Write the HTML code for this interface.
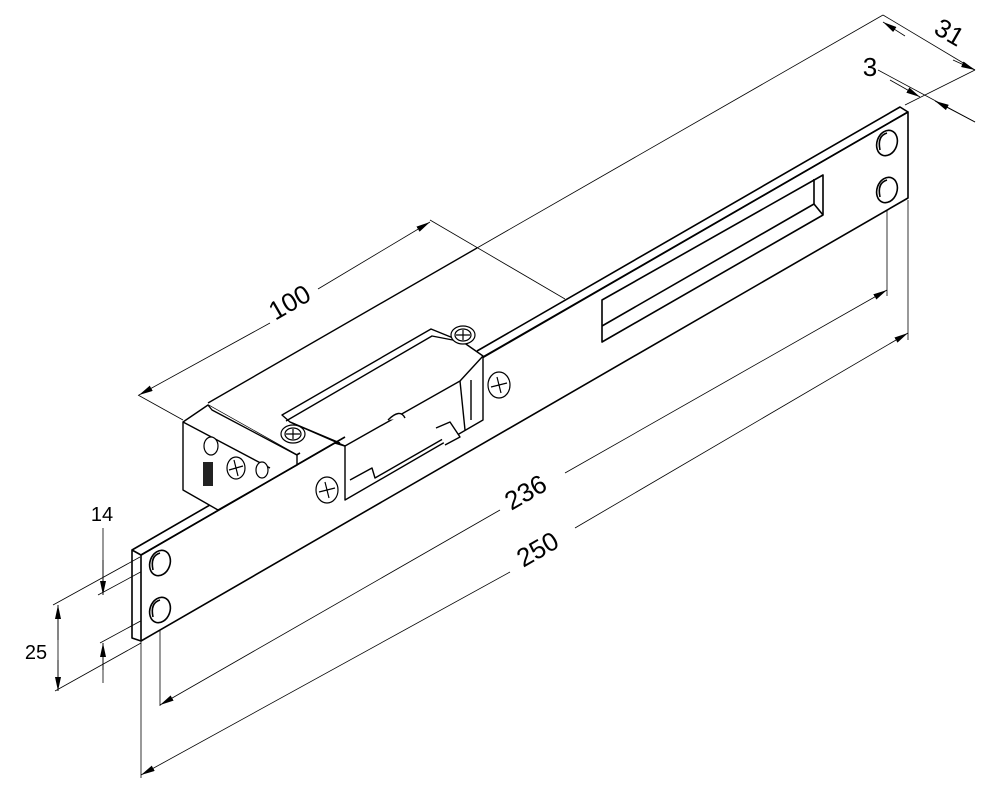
<!DOCTYPE html>
<html><head><meta charset="utf-8"><style>html,body{margin:0;padding:0;background:#fff}svg{display:block}</style></head>
<body>
<svg width="1000" height="801" viewBox="0 0 1000 801" xmlns="http://www.w3.org/2000/svg">
<defs>
<marker id="a" viewBox="0 0 14 6" refX="14" refY="3" markerWidth="14" markerHeight="6" orient="auto" markerUnits="userSpaceOnUse"><path d="M0,0 L14,3 L0,6 Z" fill="#000"/></marker>
</defs>
<g fill="none" stroke="#000" stroke-width="0.8">
<line x1="477" y1="248" x2="883" y2="15"/>
<line x1="883" y1="15" x2="975" y2="70"/>
<line x1="905" y1="105" x2="975" y2="70"/>
<line x1="878" y1="70" x2="975" y2="122"/>
<line x1="430" y1="220" x2="565" y2="299"/>
<line x1="138" y1="395" x2="183" y2="420"/>
<line x1="887" y1="198" x2="887" y2="296"/>
<line x1="908" y1="200" x2="908" y2="340"/>
<line x1="160" y1="625" x2="160" y2="706"/>
<line x1="141" y1="641" x2="141" y2="778"/>
<line x1="53" y1="605" x2="140" y2="557"/>
<line x1="98" y1="595" x2="148" y2="568"/>
<line x1="100" y1="643" x2="148" y2="617"/>
<line x1="55" y1="691" x2="141" y2="643"/>
<line x1="103" y1="528" x2="103" y2="595"/>
<line x1="103" y1="683" x2="103" y2="643"/>
<line x1="58" y1="605" x2="58" y2="691"/>
</g>
<g fill="none" stroke="#000" stroke-width="0.8">
<line x1="270" y1="323" x2="139" y2="395" marker-end="url(#a)"/>
<line x1="318" y1="289" x2="430" y2="222" marker-end="url(#a)"/>
<line x1="953" y1="60" x2="975" y2="70" marker-end="url(#a)"/>
<line x1="905" y1="36" x2="883" y2="22" marker-end="url(#a)"/>
<line x1="890" y1="80" x2="920" y2="97" marker-end="url(#a)"/>
<line x1="975" y1="122" x2="935" y2="101" marker-end="url(#a)"/>
<line x1="500" y1="510" x2="160" y2="705" marker-end="url(#a)"/>
<line x1="565" y1="473" x2="887" y2="290" marker-end="url(#a)"/>
<line x1="510" y1="572" x2="141" y2="775" marker-end="url(#a)"/>
<line x1="575" y1="528" x2="908" y2="333" marker-end="url(#a)"/>
<line x1="103" y1="560" x2="103" y2="595" marker-end="url(#a)"/>
<line x1="103" y1="670" x2="103" y2="643" marker-end="url(#a)"/>
<line x1="58" y1="640" x2="58" y2="605" marker-end="url(#a)"/>
<line x1="58" y1="660" x2="58" y2="691" marker-end="url(#a)"/>
</g>
<!-- plate -->
<g fill="none" stroke="#000" stroke-width="1.6" stroke-linejoin="round">
<polygon points="141,555 908,112 908,198 141,641" fill="#fff"/>
<polyline points="141,555 132,550 132,638 141,641"/>
<polyline points="908,112 900,107 477,351"/>
<line x1="132" y1="550" x2="300" y2="453"/>
<polygon points="602,300 823,175 823,215 602,342"/>
<polyline points="602,326 814,204 814,179"/>
<line x1="814" y1="204" x2="823" y2="215"/>
<ellipse cx="160" cy="563" rx="10" ry="13" transform="rotate(20 160 563)"/>
<path d="M153,570 Q150,556 160,553" />
<ellipse cx="160" cy="610" rx="10" ry="13" transform="rotate(20 160 610)"/>
<path d="M153,617 Q150,603 160,600" />
<ellipse cx="887" cy="143" rx="10" ry="13" transform="rotate(20 887 143)"/>
<path d="M880,150 Q877,136 887,133" />
<ellipse cx="887" cy="190" rx="10" ry="13" transform="rotate(20 887 190)"/>
<path d="M880,197 Q877,183 887,180" />
</g>
<!-- lock body -->
<g fill="#fff" stroke="#000" stroke-width="1.4" stroke-linejoin="round">
<line x1="208" y1="403" x2="477" y2="248"/>
<polygon points="183,422 208,405 297,455 297,465 218,510 183,490" />
<polyline points="208,405 212,410 297,455"/>
<line x1="183" y1="422" x2="270" y2="468"/>
<polygon points="282,415 431,329 463,342 483,356 483,420 345,500 345,446 290,422"/>
<polyline points="286,421 432,336 463,342"/>
<line x1="290" y1="422" x2="340" y2="443"/>
<line x1="345" y1="446" x2="460" y2="381"/>
<line x1="460" y1="381" x2="483" y2="356"/>
<line x1="460" y1="381" x2="465" y2="430"/>
<polyline points="350,480 372,468 375,478 455,432"/>
<polyline points="436,428 450,422 460,437 445,445"/>
<path d="M388,420 Q400,408 405,418"/>
<line x1="471" y1="380" x2="471" y2="420"/>
</g>
<rect x="203" y="462" width="10" height="24" fill="#222"/>
<g fill="#fff" stroke="#000" stroke-width="1.2">
<ellipse cx="293" cy="434" rx="12" ry="9"/><ellipse cx="293" cy="434" rx="8" ry="6"/><path d="M286,434 h14 M293,429 v10"/>
<ellipse cx="463" cy="335" rx="12" ry="9"/><ellipse cx="463" cy="335" rx="8" ry="6"/><path d="M456,335 h14 M463,330 v10"/>
<ellipse cx="499" cy="385" rx="11" ry="13"/><path d="M491,387 l16,-4 M497,377 l4,16"/>
<ellipse cx="327" cy="490" rx="11" ry="13"/><path d="M319,492 l16,-4 M325,482 l4,16"/>
<ellipse cx="211" cy="446" rx="7" ry="9"/>
<ellipse cx="236" cy="468" rx="9" ry="11"/><path d="M229,470 l14,-4 M234,460 l4,16"/>
<ellipse cx="262" cy="470" rx="6" ry="8"/>
</g>
<g fill="none" stroke="#000" stroke-width="1.6">
<line x1="141" y1="555" x2="345" y2="437"/>
<line x1="483" y1="357" x2="908" y2="112"/>
<line x1="335" y1="443" x2="345" y2="446"/>
</g>
<g font-family="Liberation Sans, sans-serif" font-size="26" fill="#000">
<text x="294" y="310" transform="rotate(-30 294 310)" text-anchor="middle">100</text>
<text x="530" y="500" transform="rotate(-30 530 500)" text-anchor="middle">236</text>
<text x="542" y="557" transform="rotate(-30 542 557)" text-anchor="middle">250</text>
<text x="945" y="40" transform="rotate(30 945 40)" text-anchor="middle">31</text>
<text x="870" y="76" text-anchor="middle">3</text>
<text x="102" y="521" font-size="20" text-anchor="middle">14</text>
<text x="36" y="659" font-size="20" text-anchor="middle">25</text>
</g>
</svg>
</body></html>
